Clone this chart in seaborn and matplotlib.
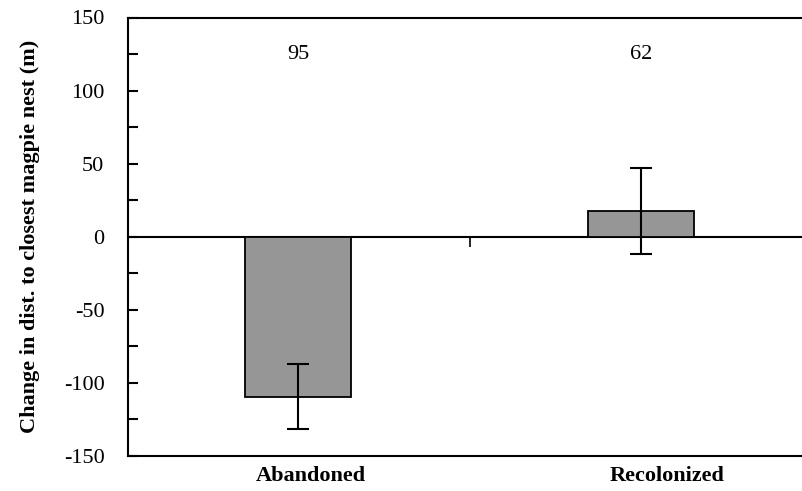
import pandas as pd
import seaborn as sns
import matplotlib.pyplot as plt
import matplotlib.transforms as mtransforms
from matplotlib.ticker import MultipleLocator

# Values
groups = ["Abandoned", "Recolonized"]
change = [-109.3, 17.5]
se = [22.0, 29.4]
n_nests = ["95", "62"]
label_y = 125

df = pd.DataFrame({"group": groups, "change": change})

sns.set_theme(style="white")
plt.rcParams["font.family"] = ["Liberation Serif", "DejaVu Serif"]
plt.rcParams["axes.unicode_minus"] = False
plt.rcParams["text.color"] = "black"
plt.rcParams["axes.labelcolor"] = "black"
plt.rcParams["xtick.color"] = "black"
plt.rcParams["ytick.color"] = "black"

fig = plt.figure(figsize=(8.02, 4.91), dpi=100)
ax = fig.add_axes([128 / 802, 35 / 491, 674 / 802, 438.5 / 491])

sns.barplot(data=df, x="group", y="change", color="#969696", width=0.31,
            saturation=1, edgecolor="black", linewidth=1.3, errorbar=None, ax=ax)
ax.errorbar(range(len(groups)), change, yerr=se, fmt="none", ecolor="black",
            elinewidth=1.5, capsize=8, capthick=1.5)

# sample sizes above the bars
for i, t in enumerate(n_nests):
    ax.text(i, label_y, t, ha="center", va="center", fontsize=16, color="black")

ax.set_ylim(-150, 150)
ax.set_xlim(-0.496, 1.469)
ax.yaxis.set_major_locator(MultipleLocator(50))
ax.yaxis.set_minor_locator(MultipleLocator(25))
ax.tick_params(axis="y", which="both", direction="in", length=7, width=1.5,
               left=True, labelsize=16, pad=17, colors="black")
ax.tick_params(axis="x", length=0, pad=7, labelsize=16, colors="black")
# category labels sit a little right of the bars in the original
for lab, dx in zip(ax.get_xticklabels(), [13, 26]):
    lab.set_fontweight("bold")
    shift = mtransforms.ScaledTranslation(dx / 100, 0, fig.dpi_scale_trans)
    lab.set_transform(lab.get_transform() + shift)

for side in ["left", "top", "bottom"]:
    ax.spines[side].set_linewidth(1.5)
    ax.spines[side].set_color("black")
ax.spines["right"].set_visible(False)

# zero line with the small tick between groups
zero = ax.secondary_xaxis(0.5)
zero.set_xticks([0.5])
zero.set_xticklabels([])
zero.tick_params(direction="in", length=7, width=1.2, colors="black")
for s in zero.spines.values():
    s.set_linewidth(1.5)
    s.set_color("black")

ax.set_xlabel("")
ax.set_ylabel("Change in dist. to closest magpie nest (m)", fontsize=16,
              fontweight="bold", labelpad=17, color="black")

fig.savefig("out.png", dpi=100)
